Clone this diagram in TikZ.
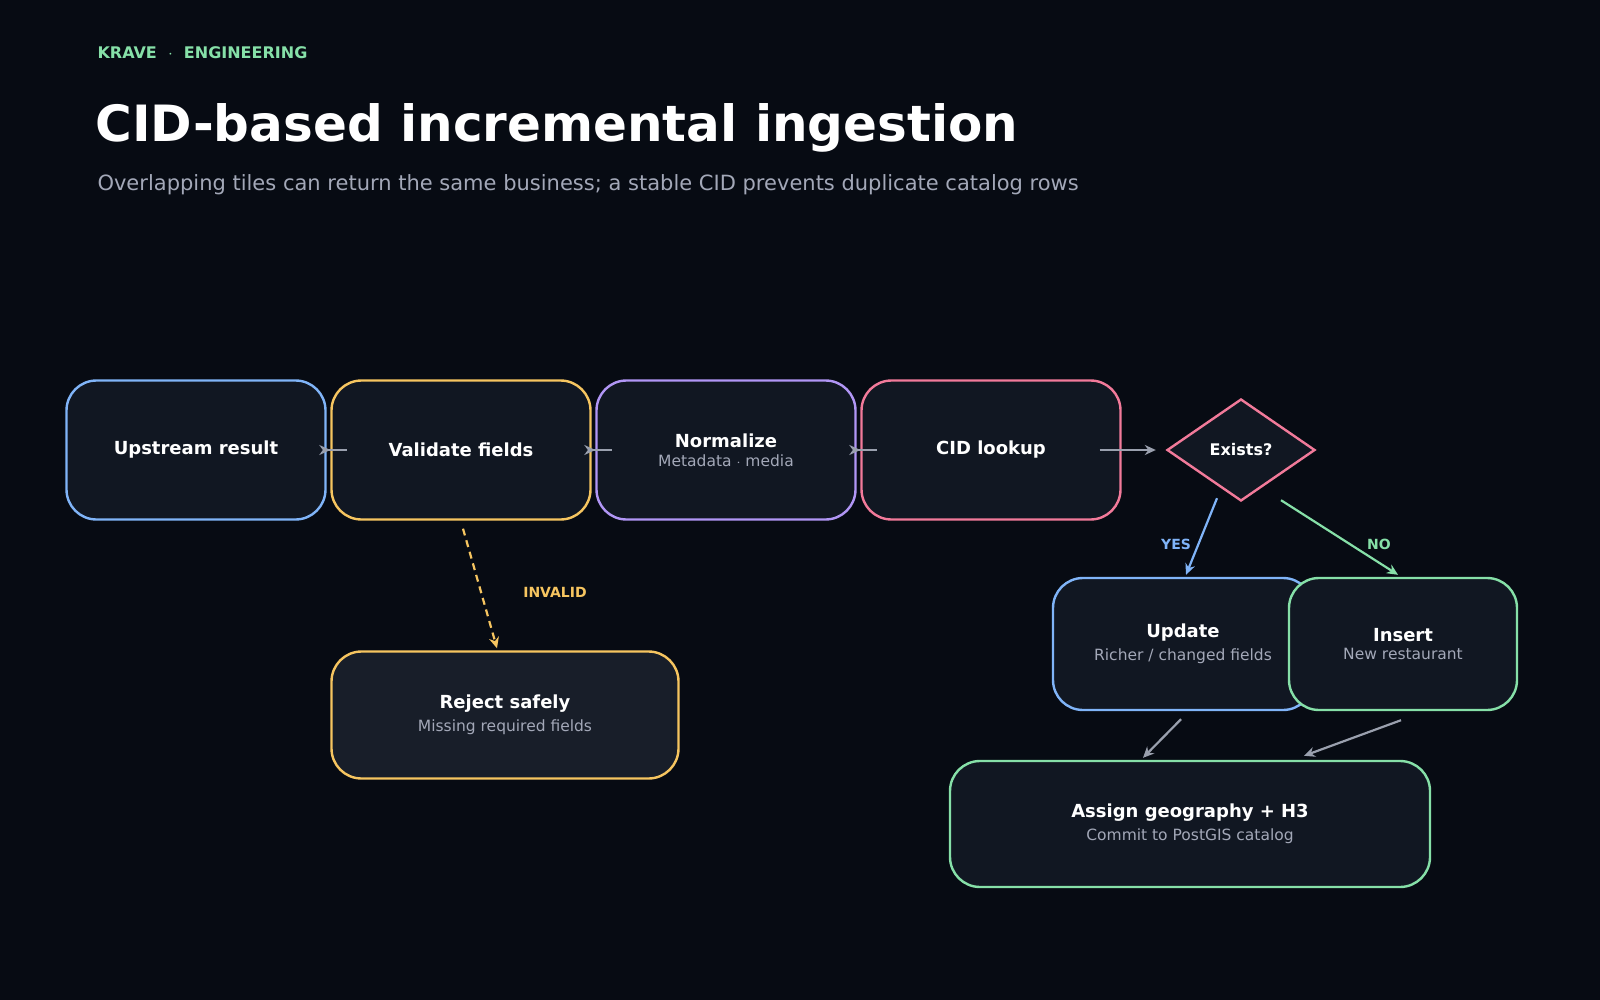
\documentclass[tikz,border=0pt]{standalone}
\usepackage{fontspec}
\setmainfont{DejaVu Sans}
\usetikzlibrary{shapes,arrows.meta,positioning,calc}
\definecolor{pagebg}{HTML}{070B13}
\definecolor{boxfill}{HTML}{111722}
\definecolor{flowblue}{HTML}{80B4F8}
\definecolor{flowyellow}{HTML}{F6C560}
\definecolor{flowpurple}{HTML}{B196F5}
\definecolor{flowpink}{HTML}{F27A9A}
\definecolor{flowgreen}{HTML}{86E0A8}
\definecolor{subgray}{HTML}{A3A8B8}
\definecolor{arrowgray}{HTML}{9AA0AE}
\tikzset{
  step/.style={draw=#1, line width=2.4pt, fill=boxfill, rounded corners=30pt, align=center, text=white},
  link/.style={line width=2.2pt, arrowgray, -{Stealth[length=11pt,width=10pt]}},
  tag/.style={font=\fontsize{14}{16}\selectfont\bfseries}
}
\newcommand{\stepname}[2]{{\fontsize{18}{22}\selectfont\bfseries #1}\\[6pt]{\fontsize{15.5}{18}\selectfont\color{subgray}#2}}
\begin{document}
\begin{tikzpicture}[x=1pt,y=-1pt]
				% Background
				\fill[pagebg] (0,0) rectangle (1600,1000);
				
				% Header
				\node[anchor=west, text=flowgreen, font=\fontsize{16}{18}\selectfont\bfseries] (kicker) at (94,53) {KRAVE \ $\cdot$ \ ENGINEERING};
				\node[anchor=west, text=white, font=\fontsize{50}{56}\selectfont\bfseries] (title) at (92,128) {CID-based incremental ingestion};
				\node[anchor=west, text=subgray, font=\fontsize{21}{24}\selectfont] (subtitle) at (94,185) {Overlapping tiles can return the same business; a stable CID prevents duplicate catalog rows};
				
				% Main row
				\node[step=flowblue, minimum width=259pt, minimum height=139pt] (upstream) at (196,450) {{\fontsize{18}{22}\selectfont\bfseries Upstream result}};
				\node[step=flowyellow, minimum width=259pt, minimum height=139pt] (validate) at (461,450) {{\fontsize{18}{22}\selectfont\bfseries Validate fields}};
				\node[step=flowpurple, minimum width=259pt, minimum height=139pt] (normalize) at (726,450) {\stepname{Normalize}{Metadata $\cdot$ media}};
				\node[step=flowpink, minimum width=259pt, minimum height=139pt] (lookup) at (991,450) {{\fontsize{18}{22}\selectfont\bfseries CID lookup}};
				\node[draw=flowpink, line width=2.4pt, fill=boxfill, diamond, minimum width=148pt, minimum height=102pt, inner sep=0pt, text=white, font=\fontsize{16}{18}\selectfont\bfseries] (exists) at (1241,450) {Exists?};
				
				% Branches
				\node[step=flowyellow, fill=boxfill!80!white!15!boxfill, minimum width=347pt, minimum height=127pt] (reject) at (505,715) {\stepname{Reject safely}{Missing required fields}};
				\node[step=flowblue, minimum width=260pt, minimum height=132pt] (update) at (1183,644) {\stepname{Update}{Richer / changed fields}};
				\node[step=flowgreen, minimum width=228pt, minimum height=132pt] (insert) at (1403,644) {\stepname{Insert}{New restaurant}};
				\node[step=flowgreen, minimum width=480pt, minimum height=126pt] (assign) at (1190,824) {\stepname{Assign geography + H3}{Commit to PostGIS catalog}};
				
				% Connections
				\draw[link, shorten <=-20pt] (upstream) -- (validate);
				\draw[link, shorten <=-20pt] (validate) -- (normalize);
				\draw[link, shorten <=-20pt] (normalize) -- (lookup);
				\draw[link, shorten <=-22pt, shorten >=10pt] (lookup) -- (exists);
				\draw[link, flowyellow, dash pattern=on 7pt off 5pt] ([xshift=2pt,yshift=-8pt]validate.south) -- ([xshift=-8pt,yshift=2pt]reject.north);
				\draw[link, flowblue] ([xshift=-24pt,yshift=4pt]exists.south) -- ([xshift=3pt,yshift=2pt]update.north);
				\draw[link, flowgreen] ([xshift=40pt,yshift=2pt]exists.south) -- ([xshift=-5pt,yshift=2pt]insert.north);
				\draw[link] ([xshift=-2pt,yshift=-8pt]update.south) -- ([xshift=-47pt,yshift=2pt]assign.north);
				\draw[link] ([xshift=-2pt,yshift=-9pt]insert.south) -- ([xshift=114pt,yshift=4pt]assign.north);
				
				% Labels
				\node[tag, text=flowyellow] (invalidlbl) at (555,592) {INVALID};
				\node[tag, text=flowblue] (yeslbl) at (1176,544) {YES};
				\node[tag, text=flowgreen] (nolbl) at (1379,544) {NO};
			\end{tikzpicture}
\end{document}
